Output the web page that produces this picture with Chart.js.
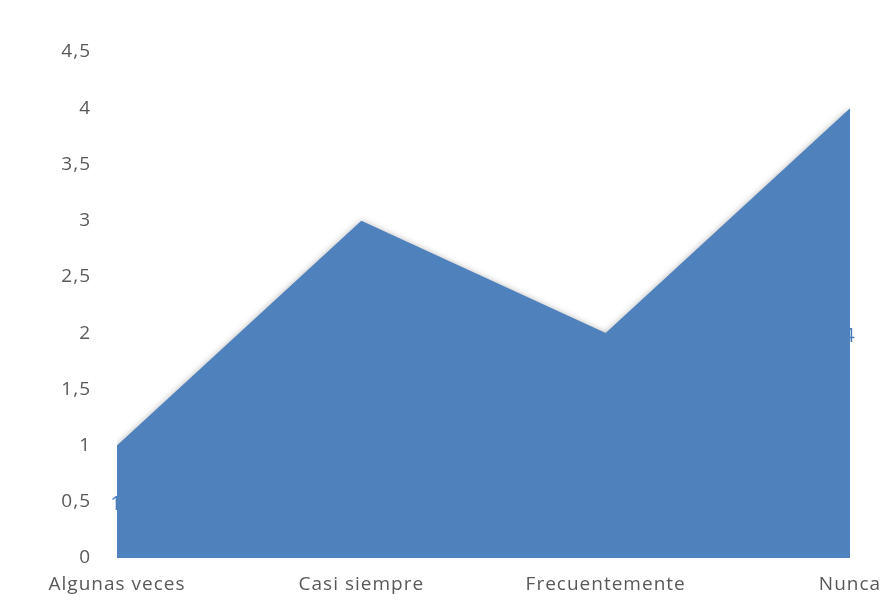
<!DOCTYPE html>
<html>
<head>
<meta charset="utf-8">
<script src="https://cdn.jsdelivr.net/npm/chart.js@4/dist/chart.umd.min.js"></script>
<style>
  html, body { margin: 0; padding: 0; background: #fff; }
  #wrap { width: 891px; height: 602px; }
</style>
</head>
<body>
<div id="wrap"><canvas id="areaChart"></canvas></div>
<script>
// Categories and values
const categories = ['Algunas veces', 'Casi siempre', 'Frecuentemente', 'Nunca'];
const values = [1, 3, 2, 4];
const yTicks = [0, 0.5, 1, 1.5, 2, 2.5, 3, 3.5, 4, 4.5];

const fillColor = '#4f81bd';
const tickColor = '#595959';
const fontFamily = '"Open Sans", sans-serif';

// slightly wider text, closer to the original's look
const spacing = {
    id: 'spacing',
    beforeInit(chart) { chart.ctx.letterSpacing = '1px'; },
    beforeDraw(chart) { chart.ctx.letterSpacing = '1px'; }
};

// Labels sit halfway up each column, drawn before the area so it hides most of them
const behindLabels = {
    id: 'behindLabels',
    beforeDatasetsDraw(chart) {
        const ctx = chart.ctx;
        const meta = chart.getDatasetMeta(0);
        const y = chart.scales.y;
        ctx.save();
        ctx.letterSpacing = '0px';
        ctx.fillStyle = '#4a7ebb';
        ctx.font = '20px ' + fontFamily;
        ctx.textAlign = 'center';
        ctx.textBaseline = 'middle';
        meta.data.forEach((pt, i) => {
            ctx.fillText(String(values[i]), pt.x - 1, y.getPixelForValue(values[i] / 2) + 3);
        });
        ctx.restore();
        // soft shadow for the area
        ctx.save();
        ctx.shadowColor = 'rgba(0,0,0,0.35)';
        ctx.shadowBlur = 7;
        ctx.shadowOffsetX = 0;
        ctx.shadowOffsetY = 1;
    },
    afterDatasetsDraw(chart) {
        chart.ctx.restore();
    }
};

new Chart(document.getElementById('areaChart').getContext('2d'), {
    type: 'line',
    data: {
        labels: categories,
        datasets: [{
            data: values,
            fill: 'origin',
            backgroundColor: fillColor,
            borderColor: fillColor,
            borderWidth: 0,
            pointRadius: 0,
            tension: 0
        }]
    },
    options: {
        responsive: true,
        maintainAspectRatio: false,
        animation: false,
        layout: { padding: { top: 52, right: 41, bottom: 0, left: 0 } },
        plugins: {
            legend: { display: false },
            tooltip: { enabled: false }
        },
        scales: {
            x: {
                offset: false,
                afterFit(scale) {
                    scale.height = 44;
                    scale.paddingLeft = 0;
                    scale.paddingRight = 0;
                },
                grid: { display: false, drawTicks: false },
                border: { display: false },
                ticks: {
                    color: tickColor,
                    font: { family: fontFamily, size: 19 },
                    padding: 15,
                    maxRotation: 0,
                    autoSkip: false
                }
            },
            y: {
                min: 0,
                max: 4.5,
                afterFit(scale) { scale.width = 117; },
                afterBuildTicks(scale) { scale.ticks = yTicks.map(v => ({ value: v })); },
                grid: { display: false, drawTicks: false },
                border: { display: false },
                ticks: {
                    color: tickColor,
                    font: { family: fontFamily, size: 19 },
                    padding: 26,
                    callback: v => String(v).replace('.', ',')
                }
            }
        }
    },
    plugins: [spacing, behindLabels]
});
</script>
</body>
</html>
